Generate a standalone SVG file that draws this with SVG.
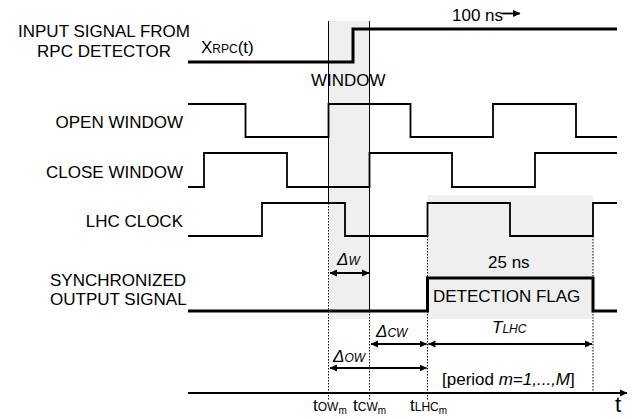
<svg xmlns="http://www.w3.org/2000/svg" width="635" height="419" viewBox="0 0 635 419">
<defs>
<style>
text{font-family:"Liberation Sans",Arial,sans-serif;font-size:17px;fill:#000}
.sm{font-size:12px}
.xs{font-size:10px}
.it{font-style:italic}
.sig{fill:none;stroke:#000;stroke-width:1.8;stroke-linejoin:miter}
.thick{stroke-width:3}
.shade{fill:#efefef}
.vl{stroke:#000;stroke-width:1}
.dot{stroke:#000;stroke-width:1;stroke-dasharray:1.5 1.5}
.dim{stroke:#000;stroke-width:1.8;fill:none}
</style>
<marker id="ah" markerWidth="8" markerHeight="8" refX="7" refY="4" orient="auto-start-reverse" markerUnits="userSpaceOnUse">
<path d="M0,0.5 L7.5,4 L0,7.5 Z" fill="#000"/>
</marker>
</defs>
<g id="shading">
<rect class="shade" x="328.5" y="21" width="41" height="298"/>
<rect class="shade" x="427.5" y="195" width="165.5" height="124"/>
</g>
<g id="connectors">
<line class="vl" x1="328.5" y1="21" x2="328.5" y2="203"/>
<line class="dot" x1="328.5" y1="203" x2="328.5" y2="401"/>
<line class="vl" x1="369.5" y1="21" x2="369.5" y2="311"/>
<line class="dot" x1="369.5" y1="311" x2="369.5" y2="401"/>
<line class="dot" x1="427.5" y1="236" x2="427.5" y2="401"/>
<line class="dot" x1="593" y1="236" x2="593" y2="393"/>
<line class="dim" x1="330" y1="273" x2="369" y2="273" marker-start="url(#ah)" marker-end="url(#ah)"/>
<line class="dim" x1="371" y1="344" x2="426.5" y2="344" marker-start="url(#ah)" marker-end="url(#ah)"/>
<line class="dim" x1="428.5" y1="344" x2="592" y2="344" marker-start="url(#ah)" marker-end="url(#ah)"/>
<line class="dim" x1="330" y1="368" x2="426.5" y2="368" marker-start="url(#ah)" marker-end="url(#ah)"/>
<line class="dim" x1="188" y1="393" x2="627" y2="393" marker-end="url(#ah)"/>
<line class="dim" x1="502" y1="13.5" x2="520" y2="13.5" marker-end="url(#ah)"/>
</g>
<g id="input-signal">
<text x="104" y="37" text-anchor="middle">INPUT SIGNAL FROM</text>
<text x="104" y="57" text-anchor="middle">RPC DETECTOR</text>
<text x="201" y="53">X<tspan class="sm">RPC</tspan>(t)</text>
<path class="sig thick" d="M188,62 H353 V29 H617"/>
<text x="452" y="21">100 ns</text>
</g>
<g id="window-label">
<text x="311" y="86">WINDOW</text>
</g>
<g id="open-window">
<text x="183" y="128" text-anchor="end">OPEN WINDOW</text>
<path class="sig" d="M188,104 H245.5 V137 H328.5 V104 H410.5 V137 H493 V104 H576 V137 H617"/>
</g>
<g id="close-window">
<text x="183" y="178" text-anchor="end">CLOSE WINDOW</text>
<path class="sig" d="M188,187 H204 V153 H287 V187 H369.5 V153 H452 V187 H535 V153 H617"/>
</g>
<g id="lhc-clock">
<text x="183" y="227" text-anchor="end">LHC CLOCK</text>
<path class="sig" d="M188,236 H262 V203 H345 V236 H427.5 V203 H510 V236 H593 V203 H617"/>
</g>
<g id="sync-output">
<text x="50" y="286">SYNCHRONIZED</text>
<text x="50" y="305">OUTPUT SIGNAL</text>
<path class="sig thick" d="M188,311 H427.5 V278 H593 V311 H617"/>
<text x="488" y="268">25 ns</text>
<text x="433" y="302">DETECTION FLAG</text>
</g>
<g id="labels">
<text x="337" y="265" class="it">Δ<tspan class="sm">W</tspan></text>
<text x="376" y="337" class="it">Δ<tspan class="sm">CW</tspan></text>
<text x="333" y="362" class="it">Δ<tspan class="sm">OW</tspan></text>
<text x="492" y="333" class="it">T<tspan class="sm">LHC</tspan></text>
<text x="442" y="385">[period <tspan class="it">m=1,...,M</tspan>]</text>
<text x="313" y="411">t<tspan class="sm">OW</tspan><tspan class="xs" dy="3">m</tspan></text>
<text x="353" y="411">t<tspan class="sm">CW</tspan><tspan class="xs" dy="3">m</tspan></text>
<text x="410" y="411">t<tspan class="sm">LHC</tspan><tspan class="xs" dy="3">m</tspan></text>
<text x="615" y="412" style="font-size:22px">t</text>
</g>
</svg>
